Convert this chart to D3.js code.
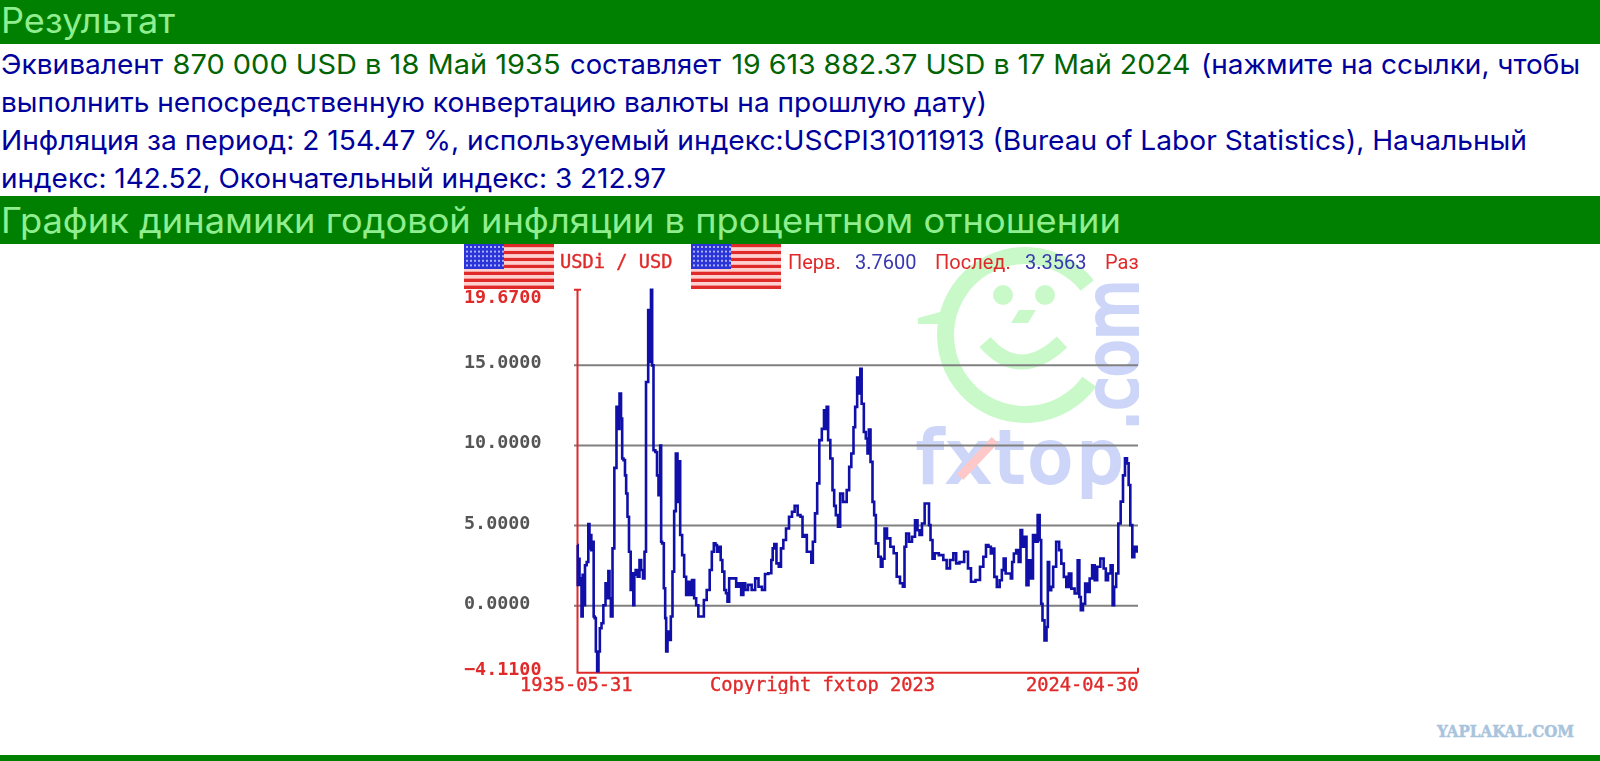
<!DOCTYPE html>
<html>
<head>
<meta charset="utf-8">
<style>
  body { margin: 0; background: #fff; }
  svg { display: block; }
</style>
</head>
<body>
<svg width="1600" height="761"></svg>
<script src="https://cdn.jsdelivr.net/npm/d3@7"></script>
<script>
// inflation: fractional year and value
var years = [1935.41,1935.49,1935.65,1935.81,1935.97,1936.12,1936.34,1936.49,1936.71,1937.02,1937.23,1937.39,1937.50,1937.71,1937.92,
  1938.03,1938.24,1938.40,1938.66,1938.82,1939.09,1939.35,1939.67,1940.04,1940.20,1940.41,1940.57,1940.83,1941.10,1941.41,1941.78,1941.94,
  1942.21,1942.42,1942.58,1942.84,1943.05,1943.21,1943.47,1943.69,1944.00,1944.16,1944.37,1944.48,1944.80,1945.11,1945.38,1945.64,1945.96,
  1946.12,1946.44,1946.81,1946.96,1947.18,1947.33,1947.60,1947.92,1948.13,1948.39,1948.66,1948.70,1948.97,1949.24,1949.40,1949.56,1949.82,
  1950.08,1950.35,1950.61,1950.88,1951.14,1951.41,1951.57,1951.83,1952.20,1952.46,1952.83,1953.15,1953.36,1953.79,1954.05,1954.42,1954.74,
  1955.27,1955.64,1956.17,1956.59,1956.85,1957.22,1957.38,1957.70,1958.02,1958.23,1958.55,1958.86,1959.07,1959.34,1959.60,1960.40,1960.77,
  1961.19,1961.56,1961.88,1962.14,1962.78,1963.30,1963.89,1964.36,1965.00,1965.31,1966.05,1966.27,1966.48,1966.79,1967.16,1967.53,1967.85,
  1968.28,1968.70,1969.23,1969.65,1970.07,1970.60,1970.97,1971.24,1971.66,1971.92,1972.45,1972.56,1972.93,1973.25,1973.62,1973.93,1974.41,
  1974.62,1974.83,1975.04,1975.31,1975.73,1976.00,1976.26,1976.52,1976.95,1977.21,1977.85,1978.38,1978.64,1979.06,1979.33,1979.59,1979.96,
  1980.23,1980.33,1980.65,1981.02,1981.28,1981.55,1981.71,1982.08,1982.34,1982.61,1982.87,1983.40,1983.66,1983.93,1984.30,1984.72,1985.36,
  1985.78,1986.31,1986.84,1987.21,1987.37,1987.74,1988.26,1988.69,1989.22,1989.48,1989.85,1990.27,1990.70,1991.12,1991.23,1991.60,1991.86,
  1992.28,1993.18,1993.71,1994.24,1994.77,1995.30,1995.67,1996.35,1997.15,1997.57,1998.10,1999.00,1999.53,2000.06,2000.37,2000.85,2001.11,
  2001.38,2001.70,2002.17,2002.60,2002.86,2003.18,2003.49,2004.02,2004.29,2004.45,2004.82,2005.19,2005.61,2005.77,2006.14,2006.45,2006.83,
  2007.09,2007.46,2007.88,2008.25,2008.57,2008.89,2009.05,2009.31,2009.68,2009.95,2010.10,2010.37,2010.74,2011.00,2011.69,2011.95,2012.38,
  2012.75,2013.17,2013.54,2013.96,2014.60,2014.92,2015.13,2015.39,2015.81,2016.08,2016.45,2016.87,2017.24,2017.67,2018.04,2018.67,2019.09,
  2019.36,2019.78,2020.20,2020.41,2020.68,2021.05,2021.37,2021.79,2022.11,2022.42,2022.74,2022.95,2023.27,2023.59,2023.90,2024.33];
var values = [3.76,1.27,2.9,1.27,1.68,-0.7,1.9,0,2.5,2.7,5.06,3.55,4.38,3.44,3.96,
  -0.7,-0.8,-2.88,-4.11,-2.88,-1.43,-1.12,0,1.37,0.44,2.14,0.44,-0.7,3.55,8.57,12.37,11,
  13.2,11.64,9.15,9.05,8.1,6.97,5.52,3.34,0.95,2,0,1.9,2.2,1.78,2.82,2.2,1.68,
  3.34,13.92,18.4,15.17,19.67,14.96,9.67,9.56,8.1,6.87,9.96,3.96,3.86,1.06,-0.8,-2.88,-1.64,
  -2.16,-0.7,2.1,5.87,9.46,6.45,8.98,4.38,3.13,1.78,0.64,1.47,0.64,1.58,0.44,0,-0.7,
  -0.7,0.33,0.95,2.2,3.34,3.86,3.75,3.34,3.65,2.82,2.1,0.95,0.75,0.23,1.68,1.68,1.16,
  1.37,0.64,1.37,0.95,1.27,0.95,1.68,1.16,0.95,1.95,2,2.82,3.55,3.82,2.61,2.4,3.55,
  4.07,4.79,5.52,5.83,6.2,5.62,5.52,4.27,4.38,3.34,3.34,2.66,3.96,5.73,7.6,10.3,11,
  12.16,11,12.37,10.3,9.15,7.18,6.2,5.62,4.9,6.97,6.45,7.18,8.63,9.46,11.1,12.37,14.2,
  13.2,14.75,12.57,10.8,10.4,9.46,10.95,8.94,6.45,5.62,3.86,3.03,2.4,2.9,4.79,4.17,3.65,
  3.24,1.78,1.37,1.16,3.65,4.48,3.96,4.27,5.3,4.68,4.38,5.1,6.35,6.35,5,4.07,2.9,
  3.24,3.13,2.82,2.3,2.82,3.24,2.61,2.7,3.34,2.3,1.47,1.58,2.4,3.03,3.75,3.65,3.23,
  3.54,1.77,1.15,1.56,2.19,2.92,1.98,1.98,1.67,2.7,3.23,3.44,2.7,4.69,3.65,4.27,1.25,
  2.81,1.67,4.38,3.96,5.62,4.06,0.1,-0.94,-2.19,-1.35,2.7,0.94,1.15,2.4,3.96,3.44,2.6,
  1.77,1.15,1.98,1.04,0.73,2.81,0.52,-0.31,0.1,1.35,0.83,1.67,2.5,1.56,2.4,2.92,2.29,
  1.56,1.98,2.5,0,1.15,1.98,5.1,6.46,8.1,9.17,8.85,7.5,5,3,3.65,3.36];
var yTicks = [19.67, 15, 10, 5, 0, -4.11];

var svg = d3.select("svg");
var red = "#e02a2a", navy = "#00009c", dark = "#006400", lime = "#90ee90", barGreen = "#008000";

// page bars
svg.append("rect").attr("x", 0).attr("y", 0).attr("width", 1600).attr("height", 44).attr("fill", barGreen);
svg.append("rect").attr("x", 0).attr("y", 196).attr("width", 1600).attr("height", 48).attr("fill", barGreen);
svg.append("rect").attr("x", 0).attr("y", 755).attr("width", 1600).attr("height", 6).attr("fill", barGreen);

// page text: the original font is wider than Inter, so stretch to the measured widths
var pageFont = "Inter, 'Noto Sans', sans-serif";
function put(txt, px, py, w, size, col) {
  svg.append("text").attr("x", px).attr("y", py).attr("fill", col)
    .attr("textLength", w).attr("lengthAdjust", "spacingAndGlyphs")
    .style("font-family", pageFont).style("font-size", size + "px").text(txt);
}
put("Результат", 1, 33, 174, 35, lime);
put("График динамики годовой инфляции в процентном отношении", 1, 233, 1120, 35, lime);
put("Эквивалент", 1, 73.5, 162, 27.5, navy);
put("870 000 USD в 18 Май 1935", 172.5, 73.5, 388, 27.5, dark);
put("составляет", 570, 73.5, 151, 27.5, navy);
put("19 613 882.37 USD в 17 Май 2024", 731.5, 73.5, 459, 27.5, dark);
put("(нажмите на ссылки, чтобы", 1201, 73.5, 379, 27.5, navy);
put("выполнить непосредственную конвертацию валюты на прошлую дату)", 1, 111.5, 986, 27.5, navy);
put("Инфляция за период: 2 154.47 %, используемый индекс:USCPI31011913 (Bureau of Labor Statistics), Начальный", 1, 149.8, 1526, 27.5, navy);
put("индекс: 142.52, Окончательный индекс: 3 212.97", 1, 188, 665, 27.5, navy);

// chart
var x = d3.scaleLinear().domain([years[0], years[years.length - 1]]).range([577.5, 1138]);
var y = d3.scaleLinear().domain([-4.11, 19.67]).range([671.2, 289.8]);
var bottom = 672.8;

svg.append("defs").append("clipPath").attr("id", "chartclip").append("rect")
  .attr("x", 460).attr("y", 244).attr("width", 679).attr("height", 450);
var g = svg.append("g").attr("clip-path", "url(#chartclip)").append("g").style("filter", "blur(0.5px)");

// fxtop watermark
var wm = g.append("g");
var ringGreen = "#c9f9c9", markBlue = "#cdd6f8";
wm.append("path")
  .attr("d", d3.arc().innerRadius(71).outerRadius(88).startAngle(2.2).endAngle(2 * Math.PI + 0.9)())
  .attr("transform", "translate(1025,335)").attr("fill", ringGreen);
wm.append("path").attr("d", "M918,318L940,312L940,324L918,324Z").attr("fill", ringGreen);
wm.append("circle").attr("cx", 1003).attr("cy", 295).attr("r", 10).attr("fill", ringGreen);
wm.append("circle").attr("cx", 1045).attr("cy", 295).attr("r", 10).attr("fill", ringGreen);
wm.append("path").attr("d", "M1019,310L1036,310L1028,323L1011,323Z").attr("fill", ringGreen);
wm.append("path").attr("d", "M985,342Q1020,382 1062,342").attr("stroke", ringGreen).attr("stroke-width", 15).attr("fill", "none");
wm.append("text").attr("x", 917).attr("y", 482).attr("fill", markBlue).attr("stroke", markBlue).attr("stroke-width", 4)
  .attr("textLength", 206)
  .style("font-family", "'DejaVu Sans'").style("font-size", "72px").text("fxtop");
wm.append("path").attr("d", "M960,477L995,440").attr("stroke", "#ffc8c8").attr("stroke-width", 9);
wm.append("text").attr("transform", "translate(1137,430) rotate(-90) scale(.85,1)").attr("fill", markBlue)
  .attr("stroke", markBlue).attr("stroke-width", 4)
  .style("font-family", "'DejaVu Sans'").style("font-size", "72px").text(".com");

// grid and y labels come from one axis
var yAxis = d3.axisLeft(y).tickValues(yTicks).tickFormat(d3.format(".4f")).tickSize(0);
var ax = g.append("g").call(yAxis);
ax.select(".domain").remove();
ax.selectAll("line").attr("x1", 574).attr("x2", 1138).attr("stroke", "#808080").attr("stroke-width", 2)
  .attr("display", function(d) { return d == 19.67 || d == -4.11 ? "none" : null; });
ax.selectAll("text").attr("x", 464).attr("text-anchor", "start").attr("dy", null)
  .attr("y", function(d) { return d == 19.67 ? 8 : d == -4.11 ? -1.4 : -2; })
  .attr("dominant-baseline", "middle")
  .attr("fill", function(d) { return d == 19.67 || d == -4.11 ? red : "#555"; })
  .style("font-family", "'DejaVu Sans Mono'").style("font-size", "18.4px").style("font-weight", "bold");

// red axes
g.append("path").attr("d", "M577.5," + y(19.67) + "V" + bottom + "H1138")
  .attr("fill", "none").attr("stroke", red).attr("stroke-width", 2);
g.append("path").attr("d", "M574," + y(19.67) + "H581M1138," + (bottom - 5) + "V" + bottom)
  .attr("stroke", red).attr("stroke-width", 2);

var line = d3.line().curve(d3.curveStep).x(function(d) { return x(d[0]); }).y(function(d) { return y(d[1]); });
g.append("path").datum(d3.zip(years, values)).attr("d", line)
  .attr("fill", "none").attr("stroke", "#1010a8").attr("stroke-width", 2.6);

// bottom labels
[["1935-05-31", 520], ["Copyright fxtop 2023", 710], ["2024-04-30", 1026]].forEach(function(l) {
  g.append("text").attr("x", l[1]).attr("y", 691).attr("fill", red).attr("stroke", red).attr("stroke-width", 0.4)
    .style("font-family", "'DejaVu Sans Mono'").style("font-size", "18.7px").text(l[0]);
});

// flags
function flag(fx) {
  var f = g.append("g").attr("transform", "translate(" + fx + ",244)");
  d3.range(13).forEach(function(i) {
    f.append("rect").attr("x", 0).attr("y", i * 3.46).attr("width", 90).attr("height", 3.5)
      .attr("fill", i % 2 ? "#ffd0d0" : "#e02a2a");
  });
  f.append("rect").attr("width", 40).attr("height", 25).attr("fill", "#2a34d8");
  d3.range(5).forEach(function(r) {
    d3.range(10).forEach(function(c) {
      f.append("rect").attr("x", 2 + c * 4).attr("y", 2 + r * 4.6).attr("width", 2).attr("height", 2).attr("fill", "#a8b0f8");
    });
  });
}
flag(464);
flag(691);

g.append("text").attr("x", 560).attr("y", 268).attr("fill", red).attr("stroke", red).attr("stroke-width", 0.4)
  .style("font-family", "'DejaVu Sans Mono'").style("font-size", "18.7px").text("USDi / USD");
[["Перв.", 788, red], ["3.7600", 855, "#3838b0"], ["Послед.", 935, red], ["3.3563", 1025, "#3838b0"], ["Раз", 1105, red]].forEach(function(l) {
  g.append("text").attr("x", l[1]).attr("y", 268.5).attr("fill", l[2])
    .style("font-family", "Roboto, sans-serif").style("font-size", "20px").text(l[0]);
});

svg.append("text").attr("x", 1437).attr("y", 737).attr("fill", "#a8c4dc").attr("stroke", "#a8c4dc").attr("stroke-width", 0.5)
  .attr("textLength", 137).attr("lengthAdjust", "spacingAndGlyphs")
  .style("font-family", "'DejaVu Serif'").style("font-weight", "bold").style("font-size", "16px").text("YAPLAKAL.COM");
</script>
</body>
</html>
